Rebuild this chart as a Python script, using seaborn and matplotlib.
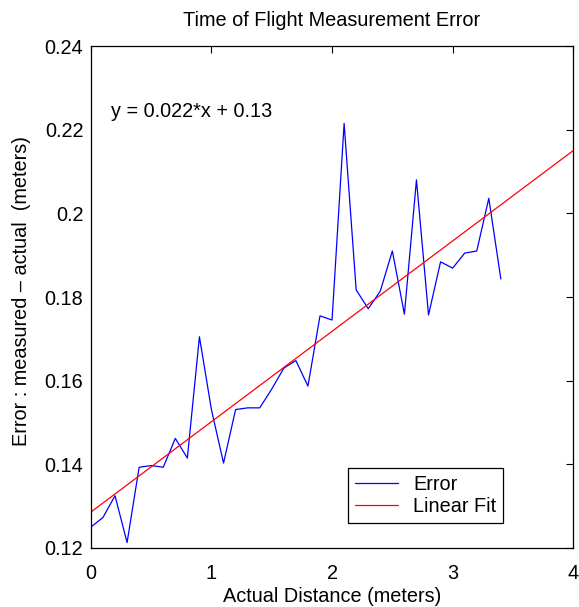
import numpy as np
import pandas as pd
import matplotlib
matplotlib.use("Agg")
import matplotlib.pyplot as plt
import seaborn as sns

distance = [0.0, 0.1, 0.2, 0.3, 0.4, 0.5, 0.6, 0.7, 0.8, 0.9,
            1.0, 1.1, 1.2, 1.3, 1.4, 1.5, 1.6, 1.7, 1.8, 1.9,
            2.0, 2.1, 2.2, 2.3, 2.4, 2.5, 2.6, 2.7, 2.8, 2.9,
            3.0, 3.1, 3.2, 3.3, 3.4]
error = [0.1250, 0.1273, 0.1325, 0.1213, 0.1393, 0.1397, 0.1393, 0.1462, 0.1415, 0.1705,
         0.1530, 0.1403, 0.1531, 0.1535, 0.1535, 0.1580, 0.1630, 0.1648, 0.1587, 0.1755,
         0.1745, 0.2215, 0.1817, 0.1772, 0.1814, 0.1910, 0.1759, 0.2080, 0.1757, 0.1884,
         0.1869, 0.1905, 0.1910, 0.2036, 0.1843]
fit_slope = 0.0216
fit_intercept = 0.1286
fit_x = [0.0, 4.0]

x_ticks = [0, 1, 2, 3, 4]
x_tick_labels = ["0", "1", "2", "3", "4"]
y_ticks = [0.12, 0.14, 0.16, 0.18, 0.20, 0.22, 0.24]
y_tick_labels = ["0.12", "0.14", "0.16", "0.18", "0.2", "0.22", "0.24"]

sns.set_theme(style="white")
plt.rcParams['font.family'] = ['Liberation Sans', 'DejaVu Sans']
plt.rcParams['text.color'] = 'black'
plt.rcParams['axes.labelcolor'] = 'black'
plt.rcParams['axes.titlecolor'] = 'black'

FS = 14.3

fig = plt.figure(figsize=(5.79, 6.07), dpi=100)
ax = fig.add_axes([0.157, 0.0972, 0.833, 0.8270])

df = pd.DataFrame({"x": distance, "y": error})
fit_df = pd.DataFrame({"x": fit_x, "y": [fit_intercept + fit_slope * v for v in fit_x]})

sns.lineplot(data=df, x="x", y="y", ax=ax, color="#0000ff", linewidth=0.9, label="Error")
sns.lineplot(data=fit_df, x="x", y="y", ax=ax, color="#ff0000", linewidth=0.9, label="Linear Fit")

ax.set_xlim(0, 4)
ax.set_ylim(0.12, 0.24)
ax.set_xticks(x_ticks)
ax.set_xticklabels(x_tick_labels)
ax.set_yticks(y_ticks)
ax.set_yticklabels(y_tick_labels)
ax.tick_params(direction="in", length=5, width=0.8, top=True, right=True,
               labelsize=FS, colors="black")
ax.tick_params(axis="x", pad=11.6)
ax.tick_params(axis="y", pad=5.5)
for s in ax.spines.values():
    s.set_color("black")
    s.set_linewidth(0.9)

ax.set_xlabel("Actual Distance (meters)", fontsize=FS, color="black")
ax.xaxis.set_label_coords(0.5, -0.077)
ax.set_ylabel("Error : measured \u2013 actual  (meters)", fontsize=FS, color="black")
ax.yaxis.set_label_coords(-0.1245, 0.512)
ax.set_title("Time of Flight Measurement Error", fontsize=FS, pad=14.6, color="black")

ax.text(0.168, 0.2231, "y = 0.022*x + 0.13", fontsize=FS, ha="left", va="baseline",
        color="black")

leg = ax.legend(loc="lower right", bbox_to_anchor=(0.855, 0.0498), borderaxespad=0,
                fontsize=FS, frameon=True, fancybox=False, edgecolor="black", framealpha=1,
                handlelength=2.2, borderpad=0.35, labelspacing=0.15, handletextpad=0.75)
leg.get_frame().set_linewidth(0.9)
for t in leg.get_texts():
    t.set_color("black")

fig.savefig("out.png", dpi=100)
